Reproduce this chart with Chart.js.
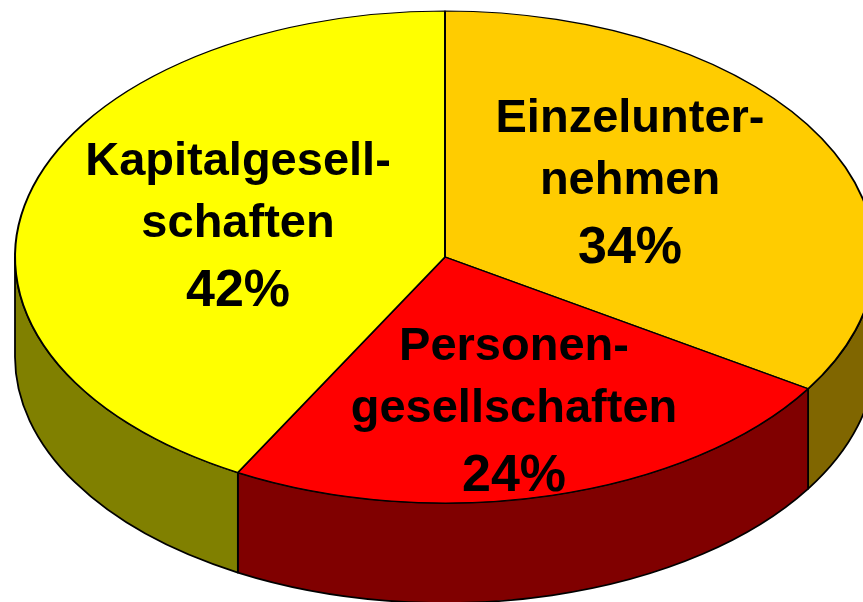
<html>

<head>
  <script src="https://cdn.jsdelivr.net/npm/chart.js"></script>
  <style>
    body { margin: 0; background: #fff; }
  </style>
</head>

<body>
  <canvas id="myChart" width="863" height="602"></canvas>

  <script>
    // data
    const labels = ['Einzelunternehmen', 'Personengesellschaften', 'Kapitalgesellschaften'];
    const values = [34, 24, 42];
    const labelLines = [['Einzelunter-', 'nehmen'], ['Personen-', 'gesellschaften'], ['Kapitalgesell-', 'schaften']];
    const topColors = ['#FFCC00', '#FF0000', '#FFFF00'];
    const sideColors = ['#806600', '#800000', '#808000'];

    // where the flat pie goes on screen (ellipse + depth)
    const CX = 445, CY = 257, RX = 430, RY = 246, DEPTH = 100;
    // anchor of the first text line of each label
    const labelPos = [[630, 132], [514, 360], [238, 175]];
    const lineOffsets = [0, 62, 131];

    const pie3d = {
      id: 'pie3d',
      beforeDatasetsDraw(chart) {
        const ctx = chart.ctx;
        const meta = chart.getDatasetMeta(0);
        // side walls for the part of each slice that faces the viewer
        meta.data.forEach(function (arc, i) {
          const a1 = Math.max(arc.startAngle, 0);
          const a2 = Math.min(arc.endAngle, Math.PI);
          if (a2 <= a1) return;
          ctx.save();
          ctx.beginPath();
          ctx.ellipse(CX, CY, RX, RY, 0, a1, a2);
          ctx.lineTo(CX + RX * Math.cos(a2), CY + DEPTH + RY * Math.sin(a2));
          ctx.ellipse(CX, CY + DEPTH, RX, RY, 0, a2, a1, true);
          ctx.closePath();
          ctx.fillStyle = sideColors[i];
          ctx.fill();
          ctx.lineWidth = 1.8;
          ctx.strokeStyle = '#000';
          ctx.lineJoin = 'round';
          ctx.stroke();
          ctx.restore();
        });
        // squash the round pie into the ellipse
        const first = meta.data[0];
        const R = first.outerRadius;
        ctx.save();
        ctx.translate(CX, CY);
        ctx.scale(RX / R, RY / R);
        ctx.translate(-first.x, -first.y);
      },
      afterDatasetsDraw(chart) {
        const ctx = chart.ctx;
        ctx.restore();
        const total = values.reduce(function (a, b) { return a + b; }, 0);
        ctx.save();
        ctx.fillStyle = '#000';
        ctx.textAlign = 'center';
        ctx.textBaseline = 'alphabetic';
        values.forEach(function (v, i) {
          const lines = labelLines[i].concat([Math.round(v / total * 100) + '%']);
          lines.forEach(function (t, k) {
            // the percentage is set a bit larger than the name
            ctx.font = (k === lines.length - 1 ? 'bold 52px' : 'bold 47px') + ' "Liberation Sans", Arial, sans-serif';
            ctx.fillText(t, labelPos[i][0], labelPos[i][1] + lineOffsets[k]);
          });
        });
        ctx.restore();
      }
    };

    const data = {
      labels: labels,
      datasets: [{
        data: values,
        backgroundColor: topColors,
        borderColor: '#000',
        borderWidth: 1.4,
        clip: false
      }]
    };

    const config = {
      type: 'pie',
      data: data,
      options: {
        responsive: false,
        animation: false,
        layout: { padding: 0 },
        plugins: {
          legend: { display: false },
          tooltip: { enabled: false }
        }
      },
      plugins: [pie3d]
    };

    const myChart = new Chart(document.getElementById('myChart'), config);
  </script>
</body>

</html>
